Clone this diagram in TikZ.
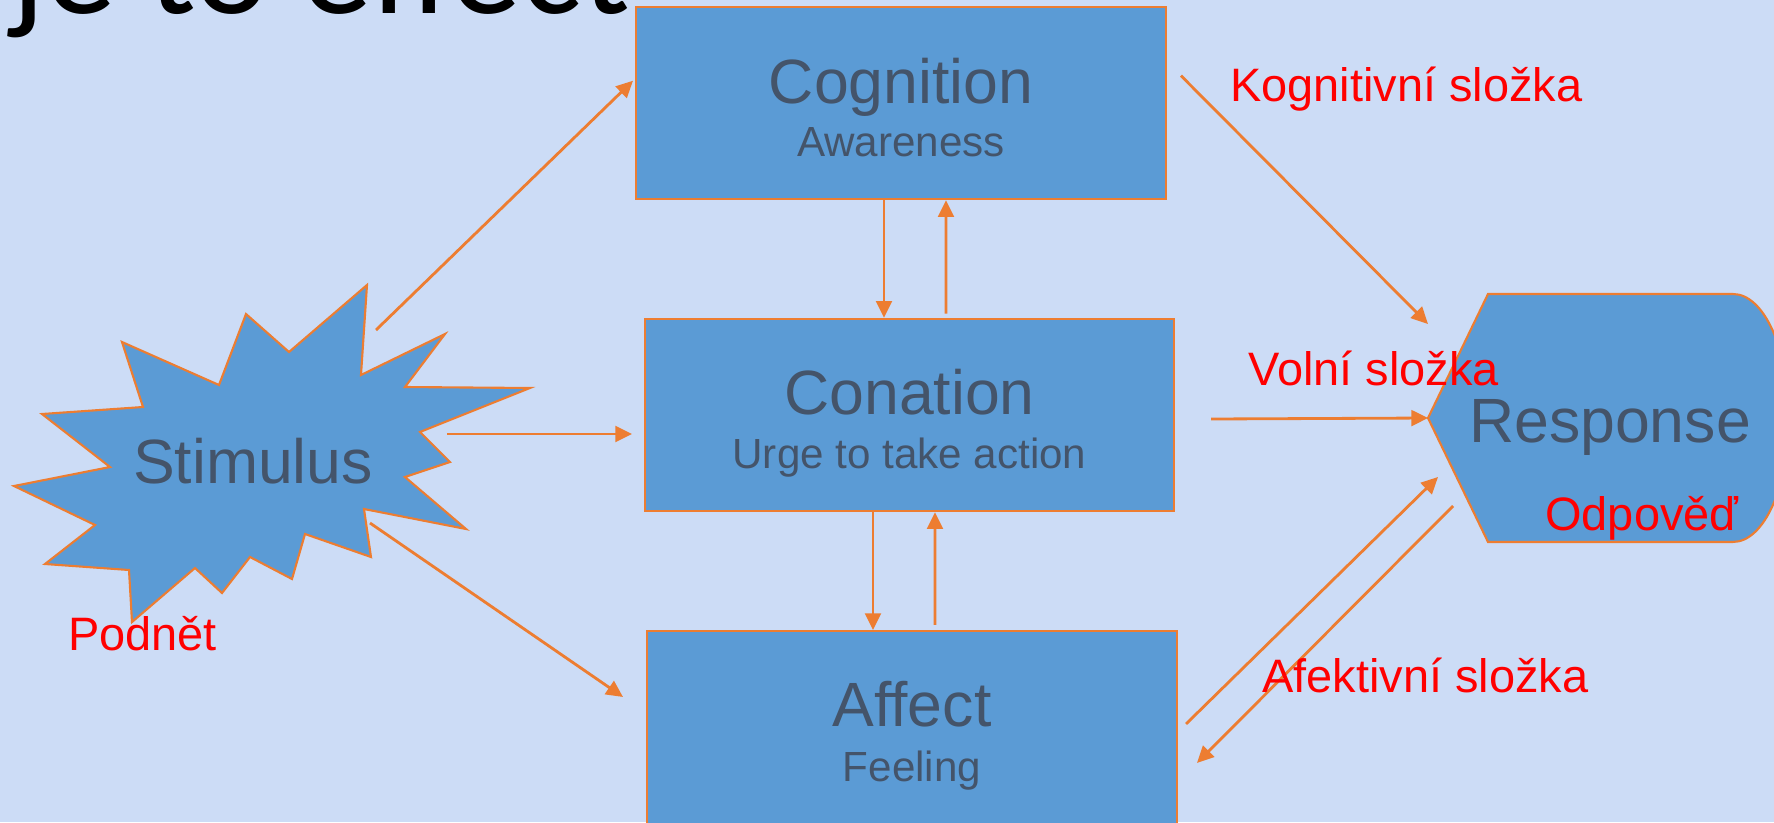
\documentclass[tikz,border=0pt]{standalone}
\usepackage{fontspec}
\setmainfont{Liberation Sans}
\newfontfamily\titlefont{Carlito}
\usetikzlibrary{arrows.meta,calc}
\definecolor{bg}{RGB}{204,220,246}
\definecolor{boxfill}{RGB}{91,155,213}
\definecolor{boxtext}{RGB}{68,84,106}
\definecolor{orng}{RGB}{237,125,49}
\definecolor{lblred}{RGB}{255,0,0}
\begin{document}
\begin{tikzpicture}[x=0.02cm,y=-0.02cm,
  box/.style={draw=orng, line width=1.2pt, fill=boxfill, minimum width=10.6cm, minimum height=3.85cm, inner sep=0pt},
  shapeline/.style={draw=orng, line width=1.2pt, fill=boxfill},
  bigtxt/.style={text=boxtext, font=\fontsize{35.6}{40}\selectfont, anchor=base, inner sep=0pt},
  smalltxt/.style={text=boxtext, font=\fontsize{24}{28}\selectfont, anchor=base, inner sep=0pt},
  redtxt/.style={text=lblred, font=\fontsize{26.7}{30}\selectfont, anchor=base west, inner sep=0pt},
  arr/.style={draw=orng, line width=1.6pt, -{Triangle[length=9.5pt,width=9pt]}}]
\useasboundingbox (0,0) rectangle (1774,822);
\fill[bg] (0,0) rectangle (1774,822);
% title (cut off by the page top)
\node[anchor=base west, inner sep=0pt, font=\titlefont\fontsize{81}{82}\selectfont] (title) at (11,13) {je to effect};
% stimulus star
\path[shapeline] (367,285) -- (361,375) -- (445,334) -- (405,387) -- (530,388) -- (420,432)
  -- (450,462) -- (405,477) -- (466,529) -- (364,509) -- (371,557) -- (305,534)
  -- (292,579) -- (250,557) -- (222,593) -- (195,568) -- (132,622) -- (129,570)
  -- (45,564) -- (95,525) -- (14,486) -- (110,467) -- (42,414) -- (143,407)
  -- (122,342) -- (219,385) -- (246,314) -- (289,352) -- cycle;
\node[bigtxt] (stim) at (253,483) {Stimulus};
% boxes
\node[box] (cog) at (901,103) {};
\node[box, minimum width=10.58cm] (con) at (909.5,415) {};
\node[box, minimum height=3.86cm] (aff) at (912,727.5) {};
% response shape
\path[shapeline] (1428,418) -- (1488,294) -- (1733,294)
  arc[start angle=90, end angle=-90, x radius=1.12cm, y radius=2.48cm] -- (1488,542) -- cycle;
\coordinate (rp) at (1428,418);
\node[bigtxt] (resp) at (1610,442) {Response};
% box texts
\node[bigtxt] (cogT) at ($(cog.center)+(0,0)$) {Cognition};
\node[smalltxt] (cogS) at ($(cog.center)+(0,53)$) {Awareness};
\node[bigtxt] (conT) at ($(con.center)+(0,-1)$) {Conation};
\node[smalltxt] (conS) at ($(con.center)+(0,53)$) {Urge to take action};
\node[bigtxt] (affT) at ($(aff.center)+(0,-1.5)$) {Affect};
\node[smalltxt] (affS) at ($(aff.center)+(0,53.5)$) {Feeling};
% connector start points on the star
\coordinate (s1) at (376,330);
\coordinate (s2) at (447,434);
\coordinate (s3) at (370,523);
% connectors
\draw[arr] (s1) -- ($(cog.north west)+(-2,75)$);
\draw[arr] (s2) -- ($(con.west)+(-12,19)$);
\draw[arr] (s3) -- ($(aff.north west)+(-23,67)$);
\draw[arr] ($(cog.south)+(-17,0)$) -- ($(con.north)+(-25.5,0)$);
\draw[arr] ($(con.north)+(36.5,-4)$) -- ($(cog.south)+(45,0)$);
\draw[arr] ($(con.south)+(-36.5,0)$) -- ($(aff.north)+(-39,0)$);
\draw[arr] ($(aff.north)+(23,-5)$) -- ($(con.south)+(25.5,0)$);
\draw[arr] ($(cog.north east)+(14,70)$) -- ($(rp)+(0,-94)$);
\draw[arr] ($(con.east)+(36,4)$) -- (rp);
\draw[arr] ($(aff.north east)+(8,94)$) -- ($(rp)+(10,59)$);
\draw[arr] ($(rp)+(25,88)$) -- ($(aff.north east)+(19,133)$);
% red labels
\node[redtxt] (kog) at (1230,101) {Kognitivní složka};
\node[redtxt] (vol) at (1248,385) {Volní složka};
\node[redtxt] (afe) at (1262,692) {Afektivní složka};
\node[redtxt] (pod) at (68,650) {Podnět};
\node[redtxt] (odp) at (1545,530) {Odpověď};
\end{tikzpicture}
\end{document}
